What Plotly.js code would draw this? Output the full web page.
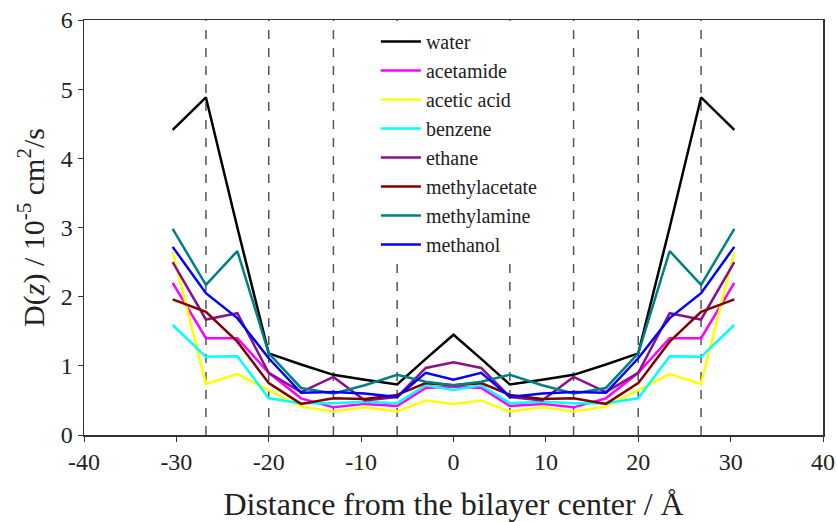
<!DOCTYPE html>
<html>
<head>
<meta charset="utf-8">
<script src="https://cdn.plot.ly/plotly-3.0.1.min.js"></script>
<style>html,body{margin:0;padding:0;background:#fff;} #chart{width:837px;height:522px;}</style>
</head>
<body>
<div id="chart"></div>
<script>
const z = [-30.4,-26.8,-23.4,-20,-16.5,-13,-9.6,-6.1,-3,0,3,6.1,9.6,13,16.5,20,23.4,26.8,30.4];

const water        = [4.41,4.88,3.0,1.18,1.02,0.87,0.8,0.73,1.1,1.45,1.1,0.73,0.8,0.87,1.02,1.18,3.0,4.88,4.41];
const acetamide    = [2.2,1.4,1.4,0.9,0.53,0.4,0.45,0.42,0.68,0.7,0.68,0.42,0.45,0.4,0.53,0.9,1.4,1.4,2.2];
const aceticAcid   = [2.65,0.74,0.88,0.65,0.41,0.34,0.4,0.34,0.5,0.45,0.5,0.34,0.4,0.34,0.41,0.65,0.88,0.74,2.65];
const benzene      = [1.59,1.13,1.14,0.53,0.46,0.46,0.48,0.46,0.72,0.65,0.72,0.46,0.48,0.46,0.46,0.53,1.14,1.13,1.59];
const ethane       = [2.5,1.67,1.76,0.9,0.62,0.84,0.5,0.55,0.97,1.05,0.97,0.55,0.5,0.84,0.62,0.9,1.76,1.67,2.5];
const methylacetate= [1.96,1.78,1.35,0.75,0.45,0.53,0.52,0.58,0.75,0.72,0.75,0.58,0.52,0.53,0.45,0.75,1.35,1.78,1.96];
const methylamine  = [2.98,2.17,2.66,1.18,0.68,0.6,0.72,0.87,0.77,0.72,0.77,0.87,0.72,0.6,0.68,1.18,2.66,2.17,2.98];
const methanol     = [2.72,2.05,1.69,1.11,0.61,0.62,0.6,0.55,0.9,0.8,0.9,0.55,0.6,0.62,0.61,1.11,1.69,2.05,2.72];

const names  = ["water","acetamide","acetic acid","benzene","ethane","methylacetate","methylamine","methanol"];
const series = [water,acetamide,aceticAcid,benzene,ethane,methylacetate,methylamine,methanol];
const colors = ["#000000","#ff00ff","#ffff00","#00ffff","#8b108b","#800000","#008080","#0000ff"];

const boundaries = [-26.8,-20,-13,-6.1,6.1,13,20,26.8];

const xTickVals = [-40,-30,-20,-10,0,10,20,30,40];
const xTickText = ["-40","-30","-20","-10","0","10","20","30","40"];

const serif = "Liberation Serif";

const traces = series.map((s,i)=>({
  x: z, y: s, type: "scatter", mode: "lines", name: names[i],
  legendgroup: "g"+i,
  line: {color: colors[i], width: 2.5}
}));

const shapes = boundaries.map(b=>({
  type:"line", xref:"x", yref:"paper", x0:b, x1:b, y0:0, y1:1,
  line:{color:"#555", width:1.5, dash:"dash"}, layer:"below"
}));

const layout = {
  width: 837, height: 522,
  margin: {l:84, r:14, t:20, b:87},
  paper_bgcolor: "#fff", plot_bgcolor: "#fff",
  font: {family: serif, color: "#222"},
  showlegend: true,
  legend: {x:0.395, y:0.995, xanchor:"left", yanchor:"top", bgcolor:"#fff",
           font:{family:serif, size:20, color:"#222"}, tracegroupgap:0, itemwidth:40},
  xaxis: {range:[-40,40], tickmode:"array", tickvals:xTickVals, ticktext:xTickText,
          ticks:"outside", ticklen:5, tickcolor:"#333",
          showline:true, linecolor:"#333", linewidth:1.5, mirror:true, showgrid:false, zeroline:false,
          tickfont:{family:serif, size:24, color:"#222"},
          title:{text:"Distance from the bilayer center / Å", font:{family:serif, size:32, color:"#222"}, standoff:18}},
  yaxis: {range:[0,6], dtick:1, ticks:"outside", ticklen:5, tickcolor:"#333",
          showline:true, linecolor:"#333", linewidth:1.5, mirror:true, showgrid:false, zeroline:false,
          tickfont:{family:serif, size:24, color:"#222"},
          title:{text:"D(<i>z</i>) / 10<sup>-5</sup> cm<sup>2</sup>/s", font:{family:serif, size:30, color:"#222"}, standoff:7}},
  shapes: shapes
};

Plotly.newPlot("chart", traces, layout, {displayModeBar:false, staticPlot:true});
</script>
</body>
</html>
